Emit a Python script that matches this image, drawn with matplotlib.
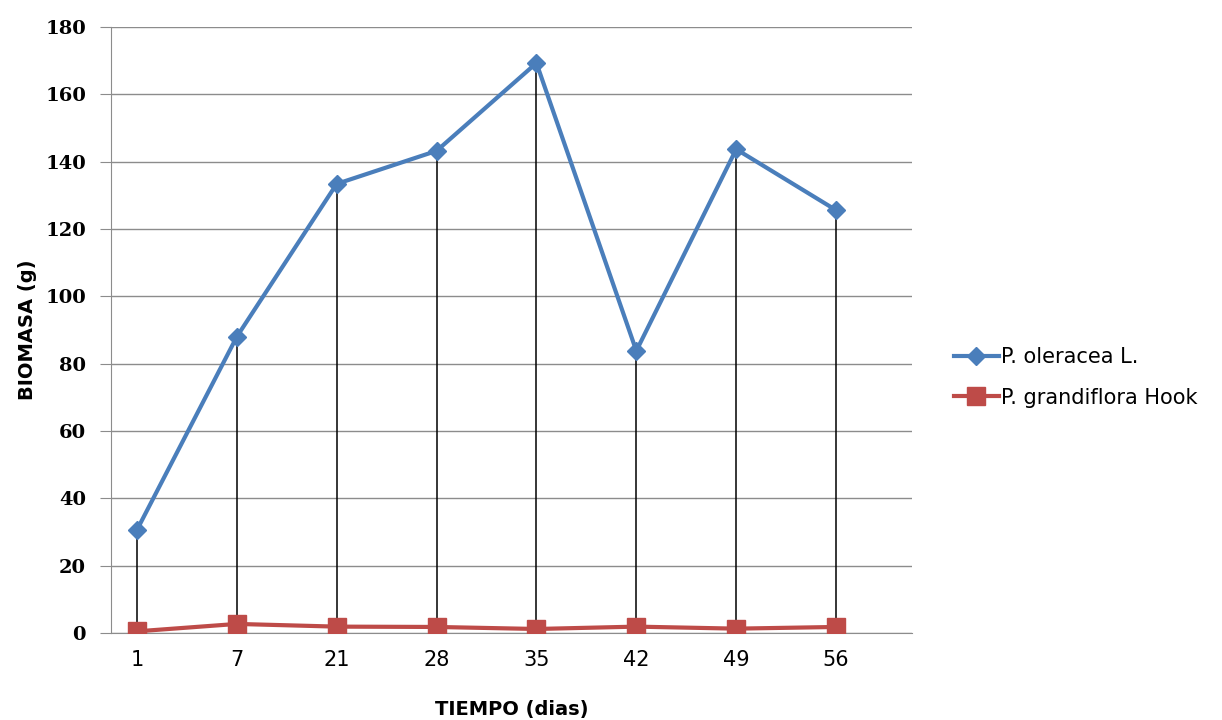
import numpy as np
import matplotlib.pyplot as plt

# data
dias = ['1', '7', '21', '28', '35', '42', '49', '56']
oleracea = [30.6, 88, 133.4, 143.2, 169.3, 83.8, 143.7, 125.6]
grandiflora = [0.5, 2.7, 1.9, 1.8, 1.2, 1.9, 1.3, 1.8]

x = np.arange(len(dias))

fig = plt.figure(figsize=(12.22, 7.2), dpi=100)
ax = fig.add_axes([0.0908, 0.1208, 0.6555, 0.8417])

# drop lines between the two series
ax.vlines(x, grandiflora, oleracea, color='black', linewidth=1.1, zorder=2)

l1, = ax.plot(x, oleracea, color='#4a7ebb', linewidth=3, marker='D',
              markersize=9, zorder=3, label='P. oleracea L.')
l2, = ax.plot(x, grandiflora, color='#be4b48', linewidth=3, marker='s',
              markersize=13, zorder=3, label='P. grandiflora Hook')

ax.set_xlim(-0.26, 7.76)
ax.set_ylim(0, 180)
ax.set_yticks(np.arange(0, 181, 20))
ax.set_xticks(x)
ax.set_xticklabels(dias, fontsize=15)
for t in ax.get_yticklabels():
    t.set_fontsize(14)
    t.set_fontweight('bold')
    t.set_family('DejaVu Serif')

ax.grid(axis='y', color='#8c8c8c', linewidth=1)
ax.set_axisbelow(True)
for s in ['top', 'right']:
    ax.spines[s].set_visible(False)
ax.spines['left'].set_color('#8c8c8c')
ax.spines['bottom'].set_color('#8c8c8c')
ax.tick_params(axis='x', length=0, pad=12)
ax.tick_params(axis='y', length=8, color='#8c8c8c', pad=10)

ax.set_ylabel('BIOMASA (g)', fontsize=14, fontweight='bold', labelpad=6)
ax.set_xlabel('TIEMPO (dias)', fontsize=14, fontweight='bold', labelpad=22)

fig.legend(handles=[l1, l2], loc='center left', bbox_to_anchor=(0.765, 0.476),
           frameon=False, handlelength=2.2, handletextpad=0.1,
           labelspacing=1.0, prop={'size': 15})

fig.savefig('out.png', dpi=100)
